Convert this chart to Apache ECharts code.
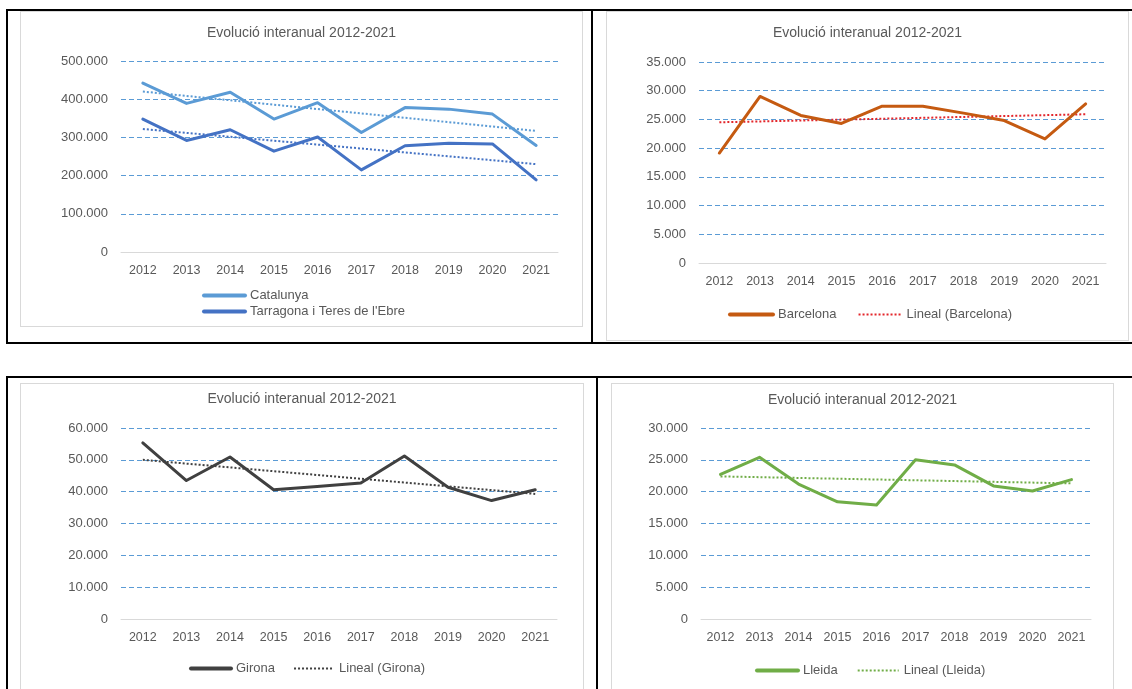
<!DOCTYPE html>
<html>
<head>
<meta charset="utf-8">
<title>Evolució interanual 2012-2021</title>
<script src="https://cdn.jsdelivr.net/npm/echarts@6/dist/echarts.min.js"></script>
<style>
  body { margin: 0; background: #fff; }
  .page { position: relative; width: 1132px; height: 689px; overflow: hidden; }
  .rule { position: absolute; background: #000; }
  .panel { position: absolute; border: 1px solid #d9d9d9; background: #fff; }
</style>
</head>
<body>
<div class="page">
  <!-- black table lines -->
  <div class="rule" style="left:6px;top:9px;width:1126px;height:2px"></div>
  <div class="rule" style="left:6px;top:9px;width:2px;height:335px"></div>
  <div class="rule" style="left:591px;top:9px;width:2px;height:335px"></div>
  <div class="rule" style="left:6px;top:342px;width:1126px;height:2px"></div>
  <div class="rule" style="left:6px;top:376px;width:1126px;height:2px"></div>
  <div class="rule" style="left:6px;top:376px;width:2px;height:313px"></div>
  <div class="rule" style="left:596px;top:376px;width:2px;height:313px"></div>

  <div id="g1" class="panel" style="left:20px;top:11px;width:561px;height:314px"></div>
  <div id="g2" class="panel" style="left:606px;top:11px;width:521px;height:328px"></div>
  <div id="g3" class="panel" style="left:20px;top:383px;width:562px;height:310px"></div>
  <div id="g4" class="panel" style="left:611px;top:383px;width:501px;height:310px"></div>
</div>

<script>
const years = ["2012", "2013", "2014", "2015", "2016", "2017", "2018", "2019", "2020", "2021"];

const catalunya = [442000, 389000, 418000, 348000, 391000, 313000, 378000, 374000, 361000, 279000];
const tarragona = [348000, 292000, 320000, 264000, 301000, 215000, 278000, 285000, 283000, 189000];
const barcelona = [19150, 29000, 25700, 24300, 27300, 27300, 26100, 24800, 21600, 27700];
const girona = [55300, 43500, 50900, 40600, 41600, 42700, 51200, 41400, 37200, 40600];
const lleida = [22700, 25400, 21200, 18400, 17900, 25000, 24200, 20900, 20100, 21900];

// trendline ends (2012, 2021)
const catalunyaTrend = [420000, 317000];
const tarragonaTrend = [322000, 230000];
const barcelonaTrend = [24500, 25900];
const gironaTrend = [50000, 39300];
const lleidaTrend = [22400, 21300];

const title = "Evolució interanual 2012-2021";
const font = "Liberation Sans";
const grey = "#595959";

function fmt(v) {
  return String(v).replace(/\B(?=(\d{3})+(?!\d))/g, ".");
}

function ends(t) {
  return [[years[0], t[0]], [years[years.length - 1], t[1]]];
}

function mainLine(name, data, color) {
  return {
    name: name, type: "line", data: data, symbol: "none",
    lineStyle: { color: color, width: 3, cap: "round", join: "round" },
    itemStyle: { color: color }
  };
}

function trendLine(name, t, color) {
  return {
    name: name, type: "line", data: ends(t), symbol: "none", z: 1,
    lineStyle: { color: color, width: 2, type: [2, 2] },
    itemStyle: { color: color }
  };
}

// legend entries: thick solid line for data, dotted for the trend
function solidItem(name) {
  return { name: name, lineStyle: { width: 4 } };
}
function dottedItem(name) {
  return { name: name, lineStyle: { width: 2, type: [2, 2] } };
}

function draw(id, c) {
  let myChart = echarts.init(document.getElementById(id));
  const option = {
    animation: false,
    textStyle: { fontFamily: font },
    title: {
      text: title, left: "center", top: c.titleTop, padding: 0,
      textStyle: { fontSize: 14, fontWeight: "normal", color: grey, fontFamily: font }
    },
    grid: c.grid,
    legend: Object.assign({
      padding: 0, itemHeight: 14,
      textStyle: { fontSize: 13, color: grey, fontFamily: font },
      itemStyle: { opacity: 0 }
    }, c.legend),
    xAxis: {
      type: "category", data: years, boundaryGap: true,
      axisTick: { show: false },
      axisLine: { lineStyle: { color: "#d9d9d9", width: 1 } },
      axisLabel: { color: grey, fontSize: 12.5, margin: 12, fontFamily: font }
    },
    yAxis: {
      type: "value", min: 0, max: c.max, interval: c.step,
      axisLine: { show: false }, axisTick: { show: false },
      axisLabel: { color: grey, fontSize: 13, margin: 13, formatter: fmt, fontFamily: font },
      splitLine: { showMinLine: false, lineStyle: { color: "#5b9bd5", width: 1, type: [5, 3] } }
    },
    series: c.series
  };
  myChart.setOption(option);
}

// Catalunya / Tarragona
draw("g1", {
  titleTop: 14,
  grid: { left: 100, top: 49, width: 437, height: 191 },
  max: 500000, step: 100000,
  legend: { orient: "vertical", left: 181, top: 277, itemWidth: 41, itemGap: 3,
            data: [solidItem("Catalunya"), solidItem("Tarragona i Teres de l'Ebre")] },
  series: [
    trendLine("Lineal (Catalunya)", catalunyaTrend, "#5b9bd5"),
    trendLine("Lineal (Tarragona)", tarragonaTrend, "#4472c4"),
    mainLine("Catalunya", catalunya, "#5b9bd5"),
    mainLine("Tarragona i Teres de l'Ebre", tarragona, "#4472c4")
  ]
});

// Barcelona
draw("g2", {
  titleTop: 14,
  grid: { left: 92, top: 50, width: 407, height: 201 },
  max: 35000, step: 5000,
  legend: { left: 121, top: 296, itemWidth: 43, itemGap: 21,
            data: [solidItem("Barcelona"), dottedItem("Lineal (Barcelona)")] },
  series: [
    mainLine("Barcelona", barcelona, "#c55a11"),
    trendLine("Lineal (Barcelona)", barcelonaTrend, "#e3262b")
  ]
});

// Girona
draw("g3", {
  titleTop: 8,
  grid: { left: 100, top: 44, width: 436, height: 191 },
  max: 60000, step: 10000,
  legend: { left: 168, top: 278, itemWidth: 40, itemGap: 18,
            data: [solidItem("Girona"), dottedItem("Lineal (Girona)")] },
  series: [
    mainLine("Girona", girona, "#404040"),
    trendLine("Lineal (Girona)", gironaTrend, "#404040")
  ]
});

// Lleida
draw("g4", {
  titleTop: 9,
  grid: { left: 89, top: 44, width: 390, height: 191 },
  max: 30000, step: 5000,
  legend: { left: 143, top: 280, itemWidth: 41, itemGap: 19,
            data: [solidItem("Lleida"), dottedItem("Lineal (Lleida)")] },
  series: [
    mainLine("Lleida", lleida, "#70ad47"),
    trendLine("Lineal (Lleida)", lleidaTrend, "#70ad47")
  ]
});
</script>
</body>
</html>
